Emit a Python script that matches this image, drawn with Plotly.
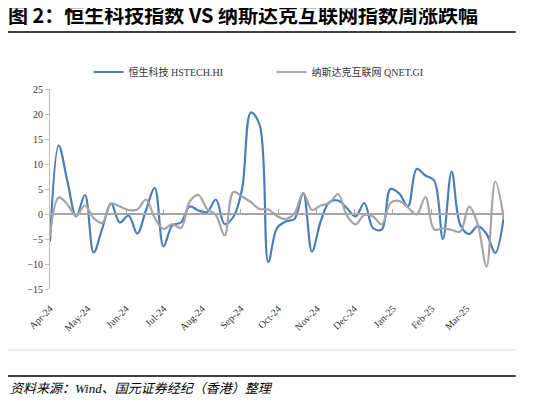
import pandas as pd
import plotly.graph_objects as go

# weekly data, Apr-2024 .. Mar-2025
dates = pd.date_range("2024-04-01", periods=53, freq="7D")

hstech = [-5.5, 13.7, 6.5, -0.5, 3.8, -7.7, -2.8, 2.1, -1.7, -0.3,
          -3.9, 0.8, 5.2, -6.5, -2.3, -1.7, 1.5, 0.7, 0.4, 2.9,
          -2.0, -0.6, 5.0, 20.3, 17.9, -9.6, -2.8, -1.5, -1.0, 4.2,
          -7.5, -1.5, 2.4, 2.7, 1.2, -0.5, 2.2, -2.8, -3.1, 5.0,
          4.1, 1.5, 9.0, 7.7, 6.7, -5.0, 8.5, -2.2, -4.0, -2.4,
          -4.0, -7.8, -0.3]

qnet = [-4.5, 3.3, 1.9, -0.4, 1.7, -0.8, -1.8, 2.1, 1.5, 0.8,
        0.9, 2.9, -0.8, -3.0, -2.0, -2.8, 2.5, 3.8, 1.0, -0.2,
        -4.3, 4.4, 3.5, 2.4, 1.0, 0.9, -0.4, -1.0, 0.1, 4.2,
        0.8, 1.7, 2.2, 4.0, -0.3, -2.1, -0.2, -0.5, -2.1, 2.2,
        2.6, 1.3, -0.1, 3.4, -3.1, -2.9, -3.2, -3.5, 1.5, -2.1,
        -10.5, 6.5, -1.1]

names = ["恒生科技 HSTECH.HI", "纳斯达克互联网 QNET.GI"]
colors = ["#4A7EBB", "#A5A5A5"]

serif = "Liberation Serif, Noto Sans CJK SC"
x_range = [dates[0], dates[-1]]

fig = go.Figure()
for name, vals, c in zip(names, [hstech, qnet], colors):
    fig.add_trace(go.Scatter(x=dates, y=vals, mode="lines", name=name,
                             line=dict(color=c, width=2.2, shape="spline", smoothing=1)))

# helper trace so the zero-line axis gets drawn
fig.add_trace(go.Scatter(x=dates, y=[None] * len(dates), xaxis="x2",
                         showlegend=False, hoverinfo="skip"))

# page body has an 8px margin, so the figure is 8px smaller than the window
fig.update_layout(
    width=525, height=397,
    margin=dict(l=42, r=29, t=81, b=116),
    paper_bgcolor="white", plot_bgcolor="white",
    title=dict(text="<b>图 2：恒生科技指数 VS 纳斯达克互联网指数周涨跌幅</b>",
               x=0.0, xanchor="left", y=0.98, yanchor="middle",
               font=dict(family="Noto Sans CJK SC", size=20, color="black")),
    legend=dict(orientation="h", x=0.085, xanchor="left", y=1.085, yanchor="middle",
                font=dict(family=serif, size=10, color="#333333"),
                entrywidth=138, entrywidthmode="pixels", itemwidth=30),
    xaxis=dict(type="date", range=x_range, tick0="2024-04-01", dtick="M1",
               tickformat="%b-%y", tickangle=-45, showline=False, showgrid=False,
               zeroline=False, ticks="outside", ticklen=9, tickcolor="rgba(0,0,0,0)",
               tickfont=dict(family=serif, size=10, color="#333333")),
    xaxis2=dict(type="date", range=x_range, tick0="2024-04-01", dtick="M1",
                overlaying="x", anchor="free", position=0.375,
                showline=True, linecolor="#A6A6A6", linewidth=1.5,
                ticks="inside", ticklen=4, tickcolor="#A6A6A6",
                showticklabels=False, showgrid=False, zeroline=False),
    yaxis=dict(range=[-15, 25], dtick=5, showline=True, linecolor="#BFBFBF",
               linewidth=1, ticks="outside", ticklen=4, tickcolor="#BFBFBF",
               showgrid=False, zeroline=False,
               tickfont=dict(family=serif, size=10, color="#333333")),
    showlegend=True,
)

# report frame lines and source note
fig.add_shape(type="line", xref="paper", yref="paper", x0=-0.0925, x1=1.026,
              y0=1.285, y1=1.285, line=dict(color="black", width=1.5))
fig.add_shape(type="line", xref="paper", yref="paper", x0=-0.0925, x1=1.026,
              y0=-0.305, y1=-0.305, line=dict(color="#D9D9D9", width=1))
fig.add_shape(type="line", xref="paper", yref="paper", x0=-0.0925, x1=1.026,
              y0=-0.435, y1=-0.435, line=dict(color="black", width=1.5))
fig.add_annotation(text="资料来源：Wind、国元证券经纪（香港）整理",
                   xref="paper", yref="paper", x=-0.0925, y=-0.495,
                   xanchor="left", yanchor="middle", showarrow=False,
                   font=dict(family=serif, size=13, color="black", style="italic"))

fig.write_html("out.html")
